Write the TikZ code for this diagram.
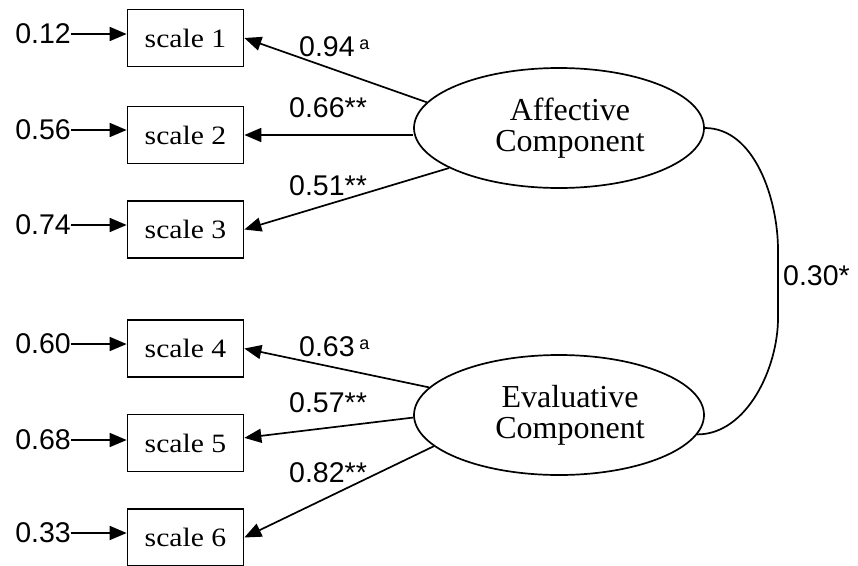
\documentclass[tikz,border=0pt]{standalone}
\usepackage{fontspec}
\setmainfont{Liberation Serif}
\newfontfamily\numfont{Liberation Sans}
\newfontfamily\boxfont[FakeStretch=1.12]{Liberation Serif}
\usetikzlibrary{arrows.meta,shapes.geometric}
\begin{document}
\begin{tikzpicture}[x=1pt,y=-1pt,
 box/.style={draw,line width=1.7pt,minimum width=116pt,minimum height=57pt,inner sep=0pt,font=\boxfont\fontsize{26.5}{28}\selectfont},
 lat/.style={draw,ellipse,line width=1.7pt,minimum width=290pt,minimum height=120pt,inner sep=0pt,align=center,font=\fontsize{32}{31}\selectfont},
 err/.style={anchor=east,inner sep=0pt,font=\numfont\fontsize{28.5}{30}\selectfont},
 lab/.style={anchor=west,inner sep=0pt,font=\numfont\fontsize{28.5}{30}\selectfont},
 arr/.style={line width=1.7pt,-{Triangle[length=17pt,width=14pt]}},
 con/.style={line width=1.7pt}]
\useasboundingbox (0,0) rectangle (858,565);
% observed scales
\node[box] (s1) at (185.5,38) {scale 1};
\node[box] (s2) at (185.5,135) {scale 2};
\node[box] (s3) at (185.5,229.5) {scale 3};
\node[box] (s4) at (185.5,348.5) {scale 4};
\node[box] (s5) at (185.5,443) {scale 5};
\node[box] (s6) at (185.5,537.5) {scale 6};
% error terms
\node[err] (e1) at (71,34) {0.12};
\node[err] (e2) at (71,130) {0.56};
\node[err] (e3) at (71,225) {0.74};
\node[err] (e4) at (71,344) {0.60};
\node[err] (e5) at (71,440) {0.68};
\node[err] (e6) at (71,533) {0.33};
\foreach \i in {1,...,6}{\draw[arr] (e\i.east) -- (e\i.east -| s\i.west);}
% latent variables
\node[lat] (A) at (559,128) {\hspace*{22pt}Affective\\\hspace*{22pt}Component};
\node[lat] (E) at (559,415) {\hspace*{22pt}Evaluative\\\hspace*{22pt}Component};
% loadings
\draw[arr] (A.169.8) -- (s1.east);
\draw[arr] (A.west |- s2.east) -- (s2.east);
\draw[arr] (A.200.5) -- (s3.east);
\draw[arr] (E.168.8) -- (s4.east);
\draw[arr] (E.181.6) -- (s5.5);
\draw[arr] (E.194.3) -- (s6.east);
% loading labels
\node[lab] (l1) at (299,47) {0.94\,\raisebox{7pt}{\fontsize{18}{18}\selectfont a}};
\node[lab] (l2) at (289,108) {0.66**};
\node[lab] (l3) at (289,186) {0.51**};
\node[lab] (l4) at (299,347) {0.63\,\raisebox{7pt}{\fontsize{18}{18}\selectfont a}};
\node[lab] (l5) at (289,403) {0.57**};
\node[lab] (l6) at (289,473) {0.82**};
% correlation
\coordinate (cTop) at (778,250);
\coordinate (cBot) at (778,318);
\draw[con] (A.east) to[out=0,in=90,looseness=0.9] (cTop) -- (cBot) to[out=-90,in=0,looseness=0.9] (E.-8);
\node[lab] (r) at (783,276) {0.30*};
\end{tikzpicture}
\end{document}
